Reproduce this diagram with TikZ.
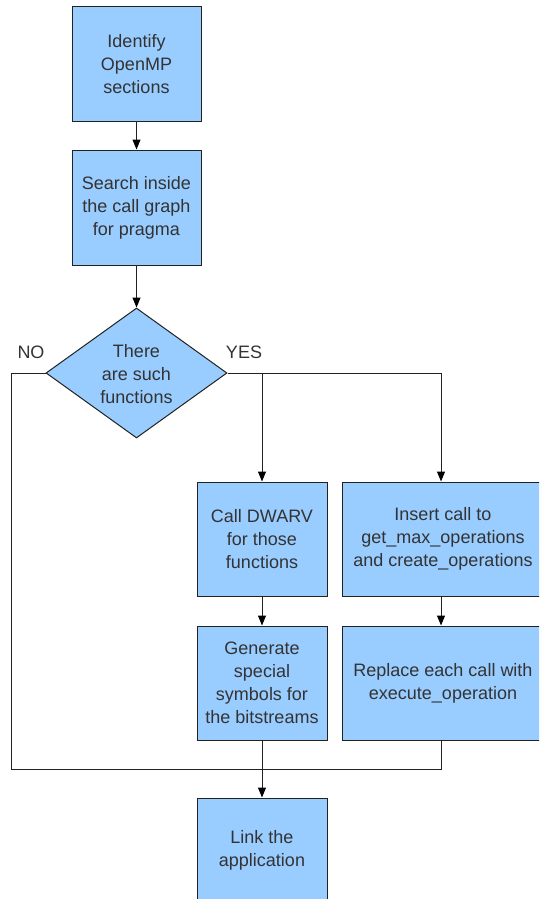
\documentclass[tikz,border=0pt]{standalone}
\usepackage{fontspec}
\setmainfont{Liberation Sans}
\usetikzlibrary{shapes.geometric,arrows.meta}
\definecolor{boxfill}{HTML}{99CCFF}
\definecolor{ink}{HTML}{333333}
\definecolor{lineink}{HTML}{222222}
\begin{document}
\begin{tikzpicture}[x=1pt,y=-1pt,
  every node/.style={font=\fontsize{18}{23}\selectfont, text=ink},
  stepbox/.style={draw=lineink, fill=boxfill, line width=1pt, rectangle, inner sep=0pt, align=center},
  dia/.style={draw=lineink, fill=boxfill, line width=1pt, diamond, inner sep=0pt, minimum width=181pt, minimum height=130pt},
  txt/.style={align=center, inner sep=0pt},
  wire/.style={draw=lineink, line width=1pt},
  arr/.style={wire, -{Triangle[length=10pt,width=8pt,color=black]}}]
\useasboundingbox (0,0) rectangle (539,899);
\clip (0,0) rectangle (539,899);
\node[stepbox, minimum width=129pt, minimum height=114pt] (b1) at (136.5,64) {Identify\\OpenMP\\sections};
\node[stepbox, minimum width=129pt, minimum height=115pt] (b2) at (136.5,207.5) {Search inside\\the call graph\\for pragma};
\node[dia] (d) at (136.5,373) {};
\node[txt] (dt) at ([yshift=-1pt]d.center) {There\\are such\\functions};
\node[txt] (no) at (31,352) {NO};
\node[txt] (yes) at (244,352) {YES};
\node[stepbox, minimum width=130pt, minimum height=114pt] (c1) at (262,539) {Call DWARV\\for those\\functions};
\node[stepbox, minimum width=202pt, minimum height=114pt] (c2) at (443,539) {Insert call to\\get\_max\_operations\\and create\_operations};
\node[stepbox, minimum width=130pt, minimum height=114pt] (g1) at (262,683) {Generate\\special\\symbols for\\the bitstreams};
\node[stepbox, minimum width=202pt, minimum height=114pt] (g2) at (443,683) {Replace each call with\\execute\_operation};
\node[stepbox, minimum width=130pt, minimum height=104pt] (l) at (262,850) {Link the\\application};
\coordinate (nl) at (11,373);
\coordinate (nb) at (11,769);
\coordinate (rb) at (441,769);
\coordinate (yr) at (441,373);
\coordinate (ym) at (262,373);
\draw[arr] (b1.south) -- (b2.north);
\draw[arr] (b2.south) -- (d.north);
\draw[wire] (d.west) -- (nl) -- (nb) -- (rb) -- (rb |- g2.south);
\draw[wire] (d.east) -- (yr);
\draw[arr] (ym) -- (ym |- c1.north);
\draw[arr] (yr) -- (yr |- c2.north);
\draw[arr] (c1.south) -- (g1.north);
\draw[arr] (rb |- c2.south) -- (rb |- g2.north);
\draw[arr] (g1.south) -- (l.north);
\end{tikzpicture}
\end{document}
